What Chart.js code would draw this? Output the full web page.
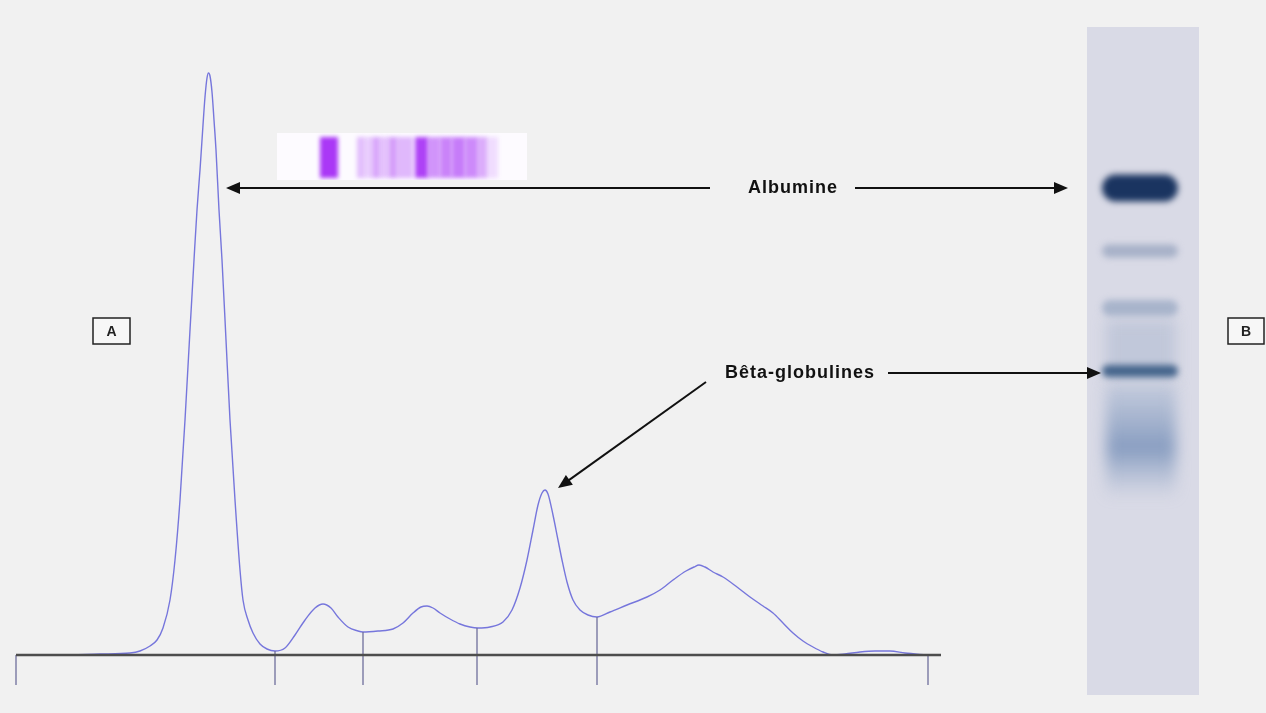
<!DOCTYPE html>
<html>
<head>
<meta charset="utf-8">
<script src="https://cdn.jsdelivr.net/npm/chart.js@4.4.1/dist/chart.umd.min.js"></script>
<style>
  html, body { margin: 0; padding: 0; background: #f1f1f1; }
  #wrap { width: 1266px; height: 713px; }
</style>
</head>
<body>
<div id="wrap"><canvas id="c" width="1266" height="713"></canvas></div>
<script>
    // densitometry trace, position along strip vs optical density (arbitrary units)
    var positions = [16, 60, 100, 130, 140, 150, 157, 163, 170, 175, 180, 185, 190, 194, 197, 200, 203, 205, 207, 208.5, 210,
        212, 214, 216, 219, 222, 226, 230, 235, 240, 243, 248, 253, 260, 267, 275, 285, 295, 305, 315, 323,
        331, 338, 348, 358, 363, 378, 393, 403, 413, 421, 427, 433, 440, 450, 460, 470, 478, 490, 503, 512, 520, 527,
        533, 538, 542, 545, 548, 553, 558, 562, 567, 573, 580, 588, 597, 610, 627, 647, 660, 673, 686, 694, 699,
        705, 713, 723, 737, 750, 763, 773, 783, 793, 803, 813, 823, 833, 845, 860, 875, 890, 905, 927];
    var density = [0, 0, 1, 2, 4, 9, 15, 27, 55, 95, 155, 235, 325, 395, 445, 485, 530, 558, 577, 582, 579,
        563, 535, 505, 445, 395, 315, 235, 155, 85, 55, 35, 22, 11, 6, 4, 7, 20, 35, 47, 51,
        47, 38, 28, 24, 23, 24, 26, 32, 42, 48, 49, 47, 42, 36, 31, 28, 27, 28, 33, 45, 67, 95,
        125, 150, 162, 165, 161, 140, 115, 95, 73, 55, 45, 40, 38, 43, 50, 58, 65, 75, 84, 88, 90,
        88, 83, 78, 68, 58, 49, 42, 32, 22, 14, 8, 3, 0, 1, 3, 4, 4, 2, 0];

    // fraction separators (position, density where they meet the trace)
    var dividerPos = [16, 275, 363, 477, 597, 928];
    var dividerTop = [0, 4, 23, 27, 38, 0];
    var dividerBottom = -30;
    var baselineFrom = 16, baselineTo = 941;

    // labels
    var albLabel = "Albumine";
    var betaLabel = "Bêta-globulines";
    var panelLabels = ["A", "B"];

    // top stained strip: [from, to, intensity]
    var stripBands = [[320, 338, 0.95], [357, 364, 0.3], [364, 372, 0.22], [372, 380, 0.4], [380, 389, 0.28],
        [389, 397, 0.45], [397, 413, 0.32], [415, 428, 0.9], [428, 440, 0.5], [440, 452, 0.58],
        [452, 465, 0.62], [465, 478, 0.55], [478, 487, 0.38], [487, 498, 0.14]];
    // gel B: [centre y, height, colour]
    var gelBands = [[188, 27, "#1a3460"], [251, 13, "#a7b1c8"], [308, 16, "#a8b4cb"], [371, 12, "#45658c"]];

    var curvePts = positions.map(function(p, i) { return {x: p, y: density[i]}; });

    var datasets = [{
        data: [{x: baselineFrom, y: 0}, {x: baselineTo, y: 0}],
        borderColor: "#4d4d4d", borderWidth: 2.6, pointRadius: 0, tension: 0
    }];
    dividerPos.forEach(function(p, i) {
        datasets.push({
            data: [{x: p, y: dividerBottom}, {x: p, y: dividerTop[i]}],
            borderColor: "#6f6f9c", borderWidth: 1.3, pointRadius: 0, tension: 0
        });
    });
    datasets.push({
        data: curvePts, borderColor: "#7676dc", borderWidth: 1.4, pointRadius: 0,
        cubicInterpolationMode: "monotone"
    });

    function arrow(ctx, x1, y1, x2, y2) {
        var a = Math.atan2(y2 - y1, x2 - x1);
        ctx.beginPath();
        ctx.moveTo(x1, y1);
        ctx.lineTo(x2 - 10 * Math.cos(a), y2 - 10 * Math.sin(a));
        ctx.stroke();
        ctx.beginPath();
        ctx.moveTo(x2, y2);
        ctx.lineTo(x2 - 14 * Math.cos(a) + 6 * Math.sin(a), y2 - 14 * Math.sin(a) - 6 * Math.cos(a));
        ctx.lineTo(x2 - 14 * Math.cos(a) - 6 * Math.sin(a), y2 - 14 * Math.sin(a) + 6 * Math.cos(a));
        ctx.closePath();
        ctx.fill();
    }

    function box(ctx, x, y, w, h, t) {
        ctx.strokeStyle = "#222";
        ctx.lineWidth = 1.5;
        ctx.fillStyle = "#f7f7f7";
        ctx.fillRect(x, y, w, h);
        ctx.strokeRect(x, y, w, h);
        ctx.fillStyle = "#222";
        ctx.font = "bold 14px 'Liberation Sans', Arial, sans-serif";
        ctx.textAlign = "center";
        ctx.textBaseline = "middle";
        ctx.fillText(t, x + w / 2, y + h / 2 + 1);
    }

    var decor = {
        id: "decor",
        beforeDraw: function(chart) {
            var ctx = chart.ctx;
            ctx.save();
            ctx.fillStyle = "#f1f1f1";
            ctx.fillRect(0, 0, chart.width, chart.height);

            // stained strip above the trace
            ctx.fillStyle = "#fdfbff";
            ctx.fillRect(277, 133, 250, 47);
            ctx.save();
            ctx.beginPath();
            ctx.rect(277, 133, 250, 47);
            ctx.clip();
            ctx.filter = "blur(2px)";
            stripBands.forEach(function(b) {
                ctx.fillStyle = "rgba(165,45,245," + b[2] + ")";
                ctx.fillRect(b[0], 137, b[1] - b[0], 41);
            });
            ctx.restore();

            // gel B
            ctx.fillStyle = "#d9dae6";
            ctx.fillRect(1087, 27, 112, 668);
            ctx.save();
            ctx.beginPath();
            ctx.rect(1087, 27, 112, 668);
            ctx.clip();
            ctx.filter = "blur(7px)";
            var g = ctx.createLinearGradient(0, 385, 0, 500);
            g.addColorStop(0, "rgba(150,170,200,0.35)");
            g.addColorStop(0.55, "rgba(120,145,185,0.85)");
            g.addColorStop(1, "rgba(150,170,200,0)");
            ctx.fillStyle = g;
            ctx.fillRect(1106, 385, 70, 112);
            ctx.fillStyle = "rgba(170,182,205,0.5)";
            ctx.fillRect(1106, 320, 70, 60);
            ctx.filter = "blur(3px)";
            gelBands.forEach(function(b) {
                ctx.fillStyle = b[2];
                ctx.beginPath();
                ctx.roundRect(1102, b[0] - b[1] / 2, 76, b[1], b[1] / 2);
                ctx.fill();
            });
            ctx.restore();
            ctx.restore();
        },
        afterDraw: function(chart) {
            var ctx = chart.ctx, sx = chart.scales.x, sy = chart.scales.y;
            ctx.save();
            ctx.strokeStyle = "#111";
            ctx.fillStyle = "#111";
            ctx.lineWidth = 2;
            var yAlb = sy.getPixelForValue(467);
            arrow(ctx, 710, yAlb, sx.getPixelForValue(226), yAlb);
            arrow(ctx, 855, yAlb, 1068, yAlb);
            var yBeta = sy.getPixelForValue(282);
            arrow(ctx, 888, yBeta, 1101, yBeta);
            arrow(ctx, 706, yBeta + 9, sx.getPixelForValue(558), sy.getPixelForValue(167));

            ctx.font = "bold 18px 'Liberation Sans', Arial, sans-serif";
            ctx.letterSpacing = "1px";
            ctx.textAlign = "center";
            ctx.textBaseline = "middle";
            ctx.fillText(albLabel, 793, yAlb);
            ctx.fillText(betaLabel, 800, yBeta);
            ctx.letterSpacing = "0px";

            box(ctx, 93, 318, 37, 26, panelLabels[0]);
            box(ctx, 1228, 318, 36, 26, panelLabels[1]);
            ctx.restore();
        }
    };

    new Chart(document.getElementById("c"), {
        type: "line",
        data: { datasets: datasets },
        options: {
            responsive: false,
            animation: false,
            layout: { padding: 0 },
            plugins: { legend: { display: false }, tooltip: { enabled: false } },
            scales: {
                x: { type: "linear", min: 0, max: 1266, display: false },
                y: { min: -58, max: 655, display: false }
            }
        },
        plugins: [decor]
    });
</script>
</body>
</html>
